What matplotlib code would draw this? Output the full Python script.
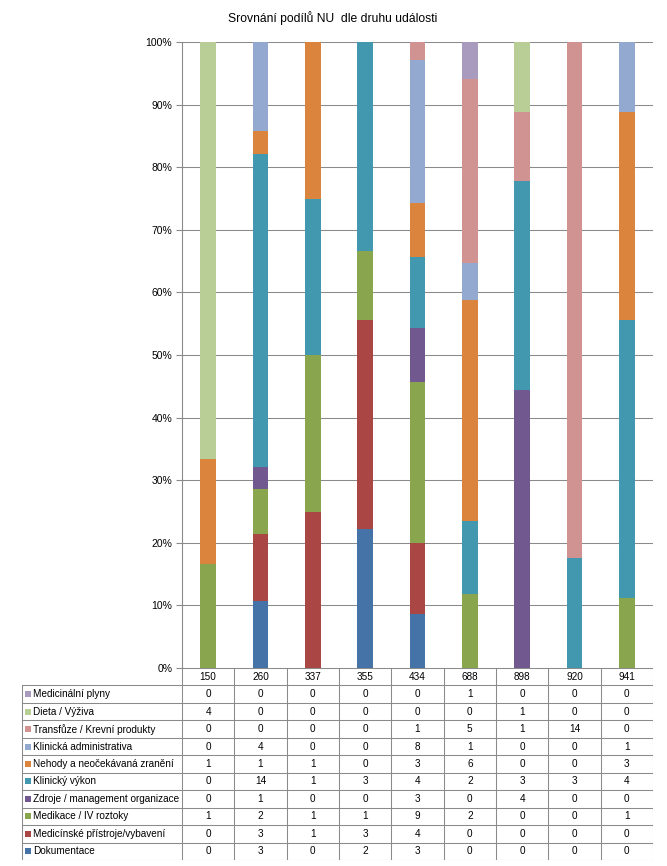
import numpy as np
import matplotlib
matplotlib.use("Agg")
import matplotlib.pyplot as plt
from matplotlib.ticker import PercentFormatter

plt.rcParams['font.family'] = ['Liberation Sans', 'DejaVu Sans']

#_______________________________________________________________________________________________________________________

categories = ['150', '260', '337', '355', '434', '688', '898', '920', '941']

# series from the bottom of the stack upwards
dokumentace   = [0, 3, 0, 2, 3, 0, 0, 0, 0]
pristroje     = [0, 3, 1, 3, 4, 0, 0, 0, 0]
medikace      = [1, 2, 1, 1, 9, 2, 0, 0, 1]
zdroje        = [0, 1, 0, 0, 3, 0, 4, 0, 0]
klin_vykon    = [0, 14, 1, 3, 4, 2, 3, 3, 4]
nehody        = [1, 1, 1, 0, 3, 6, 0, 0, 3]
klin_admin    = [0, 4, 0, 0, 8, 1, 0, 0, 1]
transfuze     = [0, 0, 0, 0, 1, 5, 1, 14, 0]
dieta         = [4, 0, 0, 0, 0, 0, 1, 0, 0]
plyny         = [0, 0, 0, 0, 0, 1, 0, 0, 0]

names = ['Dokumentace', 'Medicínské přístroje/vybavení', 'Medikace / IV roztoky',
         'Zdroje / management organizace', 'Klinický výkon', 'Nehody a neočekávaná zranění',
         'Klinická administrativa', 'Transfůze / Krevní produkty', 'Dieta / Výživa',
         'Medicinální plyny']
series = [dokumentace, pristroje, medikace, zdroje, klin_vykon, nehody,
          klin_admin, transfuze, dieta, plyny]
colors = ['#4572A7', '#AA4643', '#89A54E', '#71588F', '#4198AF', '#DB843D',
          '#93A9CF', '#D19392', '#B9CD96', '#A99BBD']

vals = np.array(series, dtype=float)
pct = vals / vals.sum(axis=0)
x = np.arange(len(categories))

fig = plt.figure(figsize=(6.67, 8.66), dpi=100)
W, H = 667.0, 866.0
left, right, top, bottom = 182, 653, 42, 668
ax1 = fig.add_axes([left / W, 1 - bottom / H, (right - left) / W, (bottom - top) / H])

base = np.zeros(len(categories))
for s, c in zip(pct, colors):
    ax1.bar(x, s, bottom=base, width=0.3, color=c, zorder=3)
    base += s

ax1.set_xlim(-0.5, len(categories) - 0.5)
ax1.set_ylim(0, 1)
ax1.set_yticks(np.arange(0, 1.01, 0.1))
ax1.yaxis.set_major_formatter(PercentFormatter(1.0, decimals=0))
ax1.set_xticks([])
ax1.grid(axis='y', color='#8a8a8a', lw=0.75, zorder=0)
for sp in ['top', 'right', 'bottom']:
    ax1.spines[sp].set_visible(False)
ax1.spines['left'].set_color('#8a8a8a')
ax1.tick_params(axis='y', length=4, color='#8a8a8a', labelsize=7.5, pad=3)
fig.text(333 / W, 1 - 18 / H, 'Srovnání podílů NU  dle druhu události', ha='center', va='center', fontsize=8.7)

# data table under the chart
tleft, tbottom = 22, 860
colw = (right - left) / len(categories)
extra = (left - tleft) / colw
tax = fig.add_axes([tleft / W, 1 - tbottom / H, (right - tleft) / W, (tbottom - bottom) / H])
x0 = -0.5 - extra
tax.set_xlim(x0, len(categories) - 0.5)
nrows = len(series) + 1
tax.set_ylim(nrows, 0)
tax.axis('off')

lc = '#8a8a8a'
tax.plot([-0.5, len(categories) - 0.5], [0, 0], color=lc, lw=0.75)
for r in range(1, nrows + 1):
    tax.plot([x0, len(categories) - 0.5], [r, r], color=lc, lw=0.75)
for k in range(len(categories) + 1):
    tax.plot([-0.5 + k, -0.5 + k], [0, nrows], color=lc, lw=0.75)
tax.plot([x0, x0], [1, nrows], color=lc, lw=0.75)

for i, cat in enumerate(categories):
    tax.text(i, 0.5, cat, ha='center', va='center', fontsize=7.2)

for r, idx in enumerate(range(len(series) - 1, -1, -1)):
    yy = r + 1.5
    tax.scatter([x0 + 0.12], [yy], marker='s', s=16, color=colors[idx], lw=0)
    tax.text(x0 + 0.21, yy, names[idx], ha='left', va='center', fontsize=7.2)
    for i in range(len(categories)):
        tax.text(i, yy, str(series[idx][i]), ha='center', va='center', fontsize=7.2)

plt.savefig('out.png', dpi=100)
